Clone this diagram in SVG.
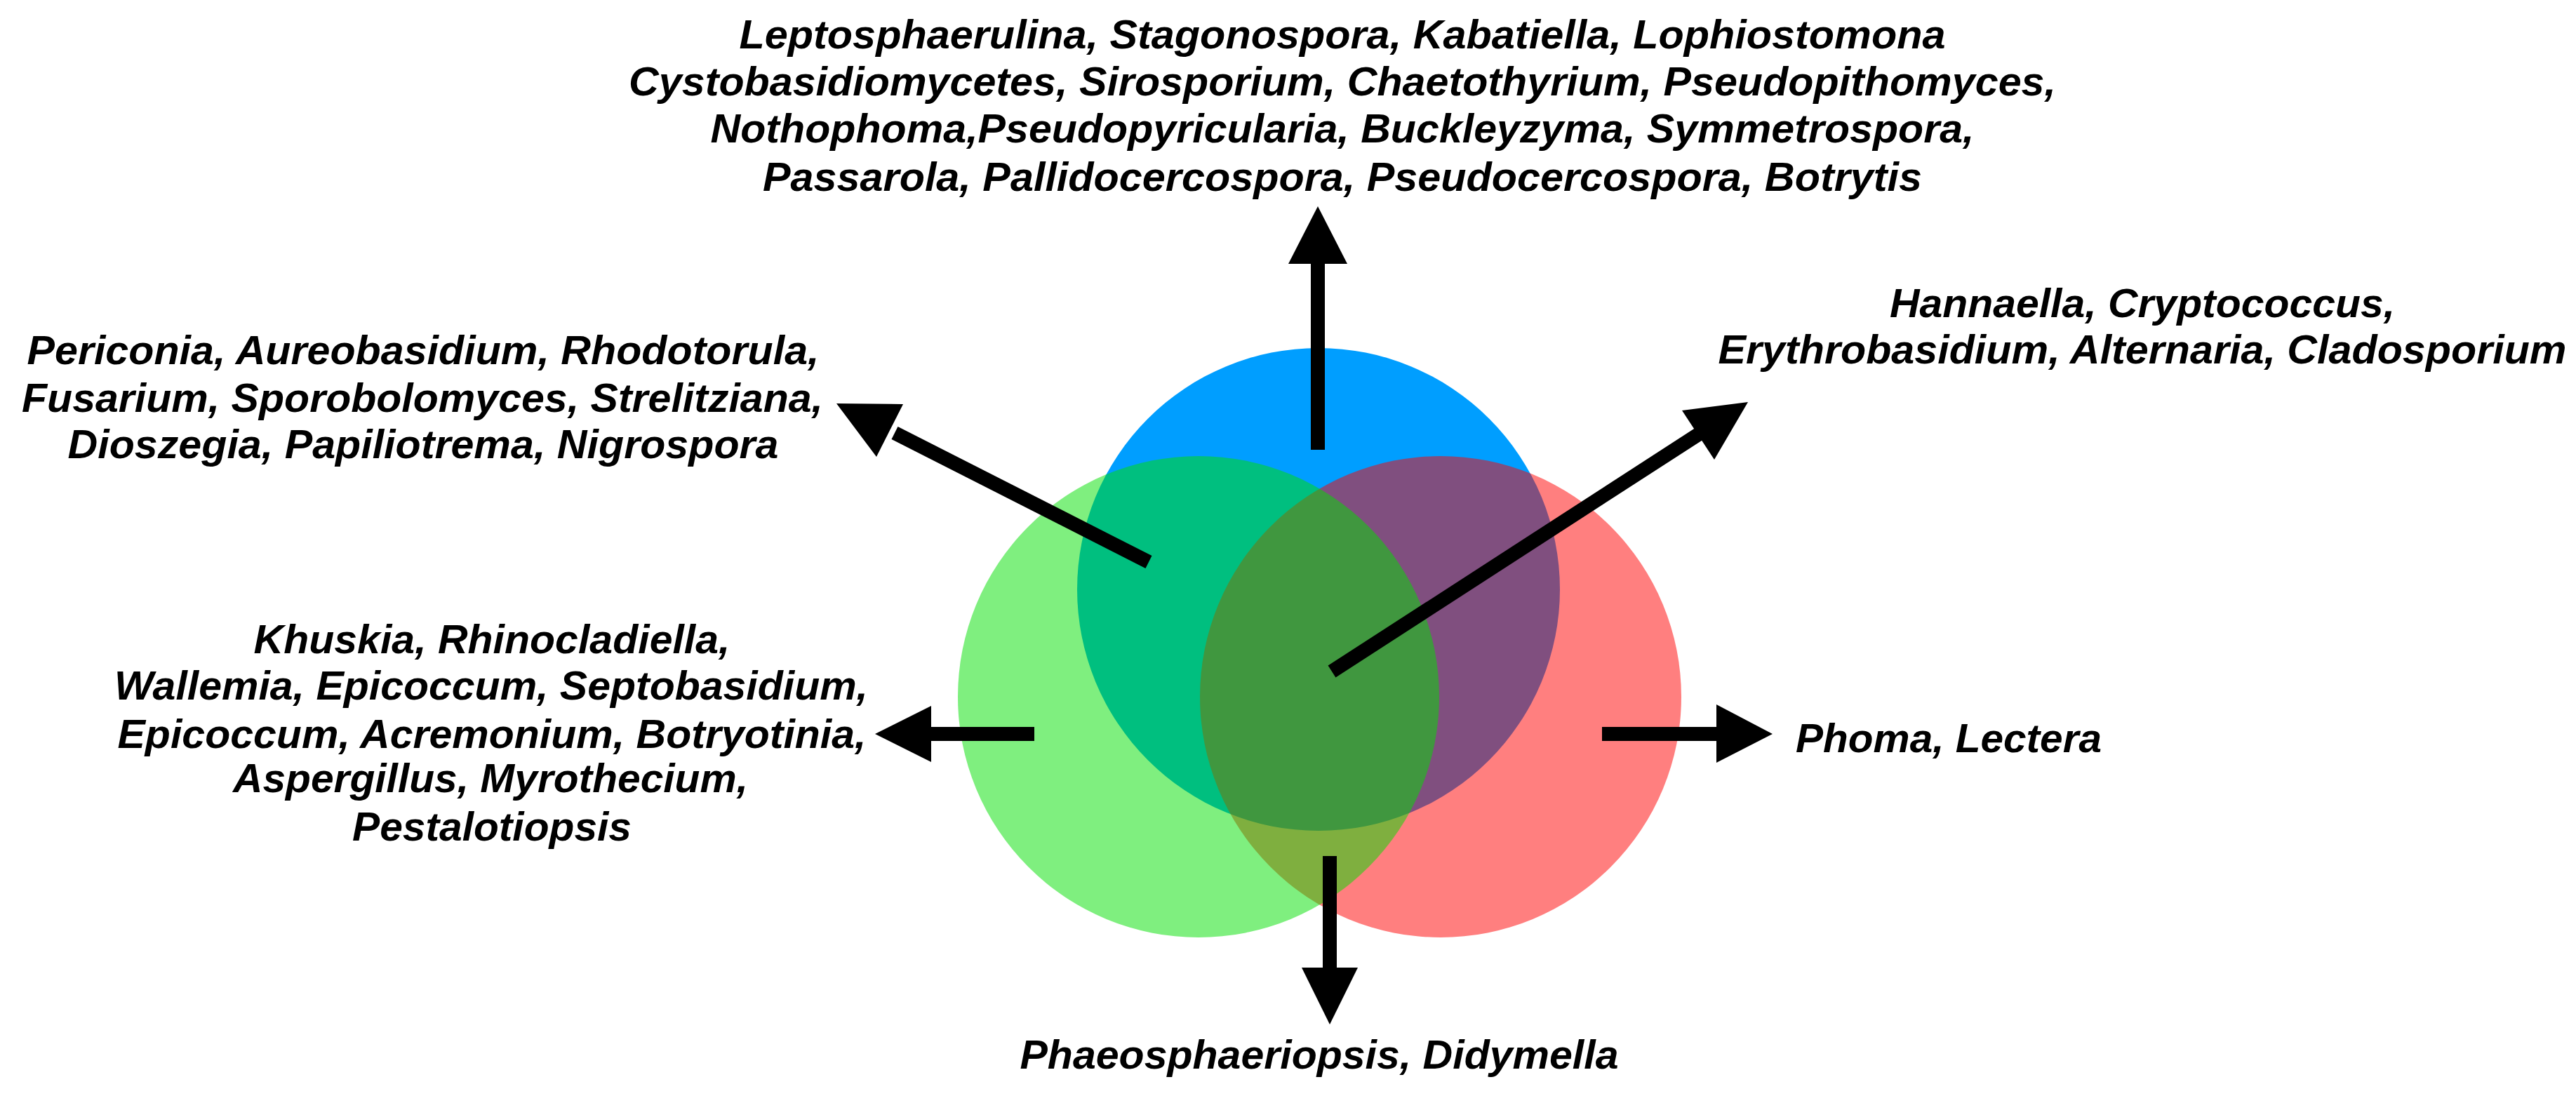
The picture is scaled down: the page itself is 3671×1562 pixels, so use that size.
<svg xmlns="http://www.w3.org/2000/svg" width="3671" height="1562" viewBox="0 0 3671 1562">
<style>
text{font-family:"Liberation Sans",Arial,sans-serif;font-weight:bold;font-style:italic;font-size:57px;fill:#000}
.c{text-anchor:middle}
.s{stroke:#000;stroke-width:20;fill:none}
</style>
<rect width="3671" height="1562" fill="#fff"/>
<g id="sets">
<circle id="blue" cx="1879" cy="840" r="344" fill="#009EFF"/>
<circle id="red" cx="2053" cy="993" r="343" fill="#FF0000" fill-opacity="0.5"/>
<circle id="green" cx="1708" cy="993" r="343" fill="#00E000" fill-opacity="0.5"/>
</g>
<g id="connectors">
<line class="s" x1="1878" y1="641" x2="1878" y2="370"/><polygon points="1878,294 1836,376 1920,376"/>
<line class="s" x1="1637" y1="801" x2="1275" y2="617"/><polygon points="1192,575 1287,576 1249,651"/>
<line class="s" x1="1898" y1="957" x2="2425" y2="616"/><polygon points="2491,573 2397,585 2443,655"/>
<line class="s" x1="1474" y1="1046" x2="1320" y2="1046"/><polygon points="1247,1046 1327,1006 1327,1086"/>
<line class="s" x1="2283" y1="1046" x2="2452" y2="1046"/><polygon points="2526,1046 2446,1004 2446,1087"/>
<line class="s" x1="1895" y1="1220" x2="1895" y2="1385"/><polygon points="1895,1460 1855,1379 1935,1379"/>
</g>
<g id="top-label">
<text class="c" x="1913" y="69" textLength="1719" lengthAdjust="spacingAndGlyphs">Leptosphaerulina, Stagonospora, Kabatiella, Lophiostomona</text>
<text class="c" x="1913" y="136" textLength="2034" lengthAdjust="spacingAndGlyphs">Cystobasidiomycetes, Sirosporium, Chaetothyrium, Pseudopithomyces,</text>
<text class="c" x="1913" y="203" textLength="1801" lengthAdjust="spacingAndGlyphs">Nothophoma,Pseudopyricularia, Buckleyzyma, Symmetrospora,</text>
<text class="c" x="1913" y="272" textLength="1652" lengthAdjust="spacingAndGlyphs">Passarola, Pallidocercospora, Pseudocercospora, Botrytis</text>
</g>
<g id="upper-left-label">
<text class="c" x="603" y="519" textLength="1129" lengthAdjust="spacingAndGlyphs">Periconia, Aureobasidium, Rhodotorula,</text>
<text class="c" x="602" y="587" textLength="1142" lengthAdjust="spacingAndGlyphs">Fusarium, Sporobolomyces, Strelitziana,</text>
<text class="c" x="603" y="653" textLength="1013" lengthAdjust="spacingAndGlyphs">Dioszegia, Papiliotrema, Nigrospora</text>
</g>
<g id="left-label">
<text class="c" x="701" y="931" textLength="679" lengthAdjust="spacingAndGlyphs">Khuskia, Rhinocladiella,</text>
<text class="c" x="700" y="997" textLength="1074" lengthAdjust="spacingAndGlyphs">Wallemia, Epicoccum, Septobasidium,</text>
<text class="c" x="701" y="1066" textLength="1067" lengthAdjust="spacingAndGlyphs">Epicoccum, Acremonium, Botryotinia,</text>
<text class="c" x="699" y="1129" textLength="734" lengthAdjust="spacingAndGlyphs">Aspergillus, Myrothecium,</text>
<text class="c" x="701" y="1198" textLength="398" lengthAdjust="spacingAndGlyphs">Pestalotiopsis</text>
</g>
<g id="upper-right-label">
<text class="c" x="3053" y="452" textLength="720" lengthAdjust="spacingAndGlyphs">Hannaella, Cryptococcus,</text>
<text class="c" x="3053" y="518" textLength="1209" lengthAdjust="spacingAndGlyphs">Erythrobasidium, Alternaria, Cladosporium</text>
</g>
<g id="right-label">
<text x="2559" y="1072" textLength="436" lengthAdjust="spacingAndGlyphs">Phoma, Lectera</text>
</g>
<g id="bottom-label">
<text class="c" x="1880" y="1523" textLength="853" lengthAdjust="spacingAndGlyphs">Phaeosphaeriopsis, Didymella</text>
</g>
</svg>
